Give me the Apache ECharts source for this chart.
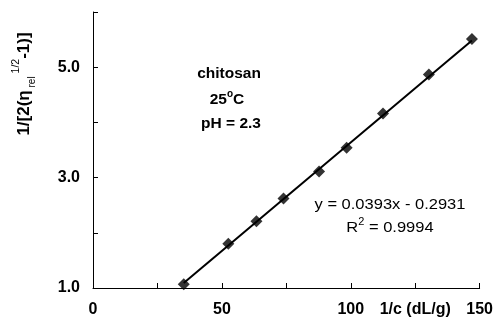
<!DOCTYPE html>
<html><head><meta charset="utf-8">
<script src="https://cdn.jsdelivr.net/npm/echarts@6/dist/echarts.min.js"></script>
<style>html,body{margin:0;padding:0;background:#fff}#c{width:496px;height:329px}</style>
</head><body><div id="c"></div>
<script>
// data
const invC = [35.2, 52.5, 63.4, 73.9, 87.7, 98.4, 112.5, 130.3, 147.0];
const yVals = [1.07, 1.80, 2.21, 2.62, 3.11, 3.54, 4.16, 4.87, 5.51];
const slope = 0.0393, intercept = -0.2931;
const trendX = [35.2, 147.0];
const xTickLabels = {0: '0', 50: '50', 100: '100', 125: '1/c (dL/g)', 150: '150'};
const yTickLabels = {1: '1.0', 3: '3.0', 5: '5.0'};

const FF = "'Liberation Sans', Arial, sans-serif";
const points = invC.map((x, i) => [x, yVals[i]]);
const trend = trendX.map(x => [x, slope * x + intercept]);

const chart = echarts.init(document.getElementById('c'), null, {renderer: 'canvas'});
chart.setOption({
  animation: false,
  backgroundColor: '#fff',
  grid: {left: 93, right: 15, top: 12, bottom: 41, containLabel: false},
  xAxis: {
    type: 'value', min: 0, max: 150, interval: 25,
    axisLine: {show: true, onZero: false, lineStyle: {color: '#000', width: 1}},
    axisTick: {show: true, inside: true, length: 5, lineStyle: {color: '#000'}},
    splitLine: {show: false},
    axisLabel: {
      margin: 14, color: '#000', fontFamily: FF, fontWeight: 'bold', fontSize: 16,
      formatter: v => xTickLabels[v] !== undefined ? xTickLabels[v] : ''
    }
  },
  yAxis: {
    type: 'value', min: 1, max: 6, interval: 1,
    axisLine: {show: true, onZero: false, lineStyle: {color: '#000', width: 1}},
    axisTick: {show: true, inside: true, length: 5, lineStyle: {color: '#000'}},
    splitLine: {show: false},
    axisLabel: {
      margin: 13, color: '#000', fontFamily: FF, fontWeight: 'bold', fontSize: 16,
      formatter: v => yTickLabels[v] !== undefined ? yTickLabels[v] : ''
    }
  },
  series: [
    {
      type: 'line', data: trend, symbol: 'none',
      lineStyle: {color: '#000', width: 2}, z: 2
    },
    {
      type: 'scatter', data: points, symbol: 'diamond', symbolSize: 12,
      itemStyle: {color: '#000'}, z: 3
    }
  ],
  graphic: [
    {
      type: 'text', x: 24, y: 84, rotation: Math.PI / 2,
      style: {
        text: '{a|1/[2(η}{sub| rel}{sup| 1/2}{a|-1)]}',
        align: 'center', verticalAlign: 'middle', fill: '#000',
        rich: {
          a: {fontFamily: FF, fontWeight: 'bold', fontSize: 17, lineHeight: 27, fill: '#000'},
          sub: {fontFamily: FF, fontSize: 10, lineHeight: 21, verticalAlign: 'bottom', fill: '#000'},
          sup: {fontFamily: FF, fontSize: 10.5, lineHeight: 11, verticalAlign: 'top', fill: '#000'}
        }
      }
    },
    {
      type: 'text', x: 229, y: 74,
      style: {text: 'chitosan', font: "bold 15.5px " + FF, align: 'center', verticalAlign: 'middle', fill: '#000'}
    },
    {
      type: 'text', x: 227, y: 100,
      style: {
        text: '{b|25}{o|o}{b|C}', align: 'center', verticalAlign: 'middle', fill: '#000',
        rich: {
          b: {fontFamily: FF, fontWeight: 'bold', fontSize: 15.5, lineHeight: 22, fill: '#000'},
          o: {fontFamily: FF, fontWeight: 'bold', fontSize: 10, lineHeight: 12, verticalAlign: 'top', fill: '#000'}
        }
      }
    },
    {
      type: 'text', x: 231, y: 124,
      style: {text: 'pH = 2.3', font: "bold 15.5px " + FF, align: 'center', verticalAlign: 'middle', fill: '#000'}
    },
    {
      type: 'text', x: 390, y: 205, scaleX: 1.1,
      style: {text: 'y = 0.0393x - 0.2931', font: "15px " + FF, align: 'center', verticalAlign: 'middle', fill: '#000'}
    },
    {
      type: 'text', x: 390, y: 228, scaleX: 1.1,
      style: {
        text: '{r|R}{s|2}{r| = 0.9994}', align: 'center', verticalAlign: 'middle', fill: '#000',
        rich: {
          r: {fontFamily: FF, fontSize: 15, lineHeight: 22, fill: '#000'},
          s: {fontFamily: FF, fontSize: 10, lineHeight: 11, verticalAlign: 'top', fill: '#000'}
        }
      }
    }
  ]
});
</script></body></html>
